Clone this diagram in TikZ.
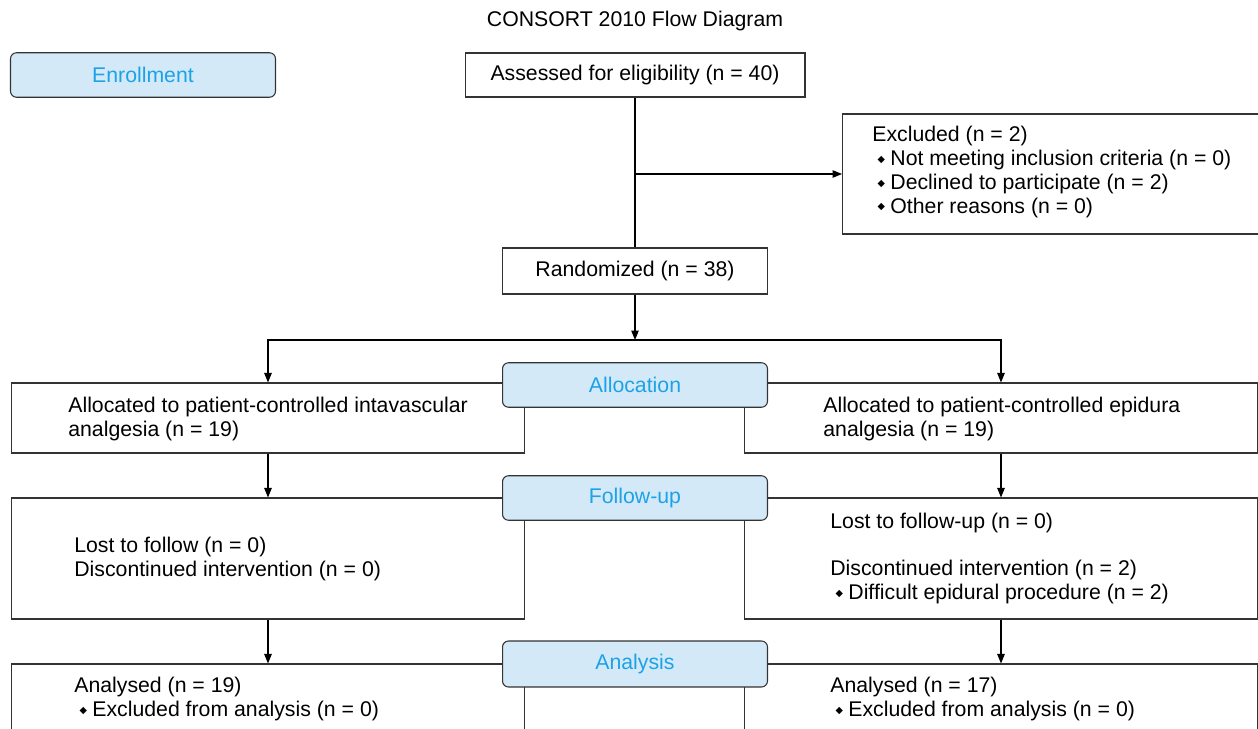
\documentclass[tikz,border=0pt]{standalone}
\usepackage{fontspec}
\setmainfont{Liberation Sans}
\newfontfamily\symfont{DejaVu Sans}
\usetikzlibrary{arrows.meta}
\definecolor{phasefill}{HTML}{D4E9F8}
\definecolor{phasetext}{HTML}{1CA2E6}
\definecolor{boxline}{HTML}{333333}
\newcommand{\itm}{\hspace*{0.25em}\raisebox{0.3ex}{\symfont\fontsize{5.5}{5.5}\selectfont ◆}\hspace{0.25em}}
\tikzset{
	every node/.style={font=\fontsize{12.1}{13.6}\selectfont},
	box/.style={draw=boxline, line width=0.6pt, minimum width=10.28cm, inner sep=0pt},
	phase/.style={draw=boxline, line width=0.6pt, fill=phasefill, text=phasetext,
		rounded corners=1.2mm, minimum width=5.3cm, minimum height=0.89cm, inner sep=0pt},
	txt/.style={anchor=west, align=left, inner sep=0pt},
	arr/.style={-{Triangle[length=1.9mm,width=1.5mm]}, line width=0.6pt}
}
\begin{document}
\begin{tikzpicture}[x=0.02cm, y=-0.02cm]
	\clip (0,0) rectangle (1258,729);
	\useasboundingbox (0,0) rectangle (1258,729);
	\node (title) at (635,21) {CONSORT 2010 Flow Diagram};
	% enrollment
	\node[box, minimum width=6.8cm, minimum height=0.88cm] (assess) at (635,75) {Assessed for eligibility (n = 40)};
	\node[box, minimum width=8.5cm, minimum height=2.4cm] (excl) at (1055,174) {};
	\node[txt] (excltext) at (872,172) {Excluded (n = 2)\\
		\itm Not meeting inclusion criteria (n = 0)\\
		\itm Declined to participate (n = 2)\\
		\itm Other reasons (n = 0)};
	\node[box, minimum width=5.3cm, minimum height=0.92cm] (rand) at (635,271) {Randomized (n = 38)};
	\coordinate (branch) at (assess.south |- excl.west);
	\coordinate (split) at (635,340);
	% allocation
	\node[box, minimum height=1.4cm] (allocL) at (268,418) {};
	\node[txt] (allocLtext) at (68,419) {Allocated to patient-controlled intavascular\\ analgesia (n = 19)};
	\node[box, minimum height=1.4cm] (allocR) at (1001,418) {};
	\node[txt] (allocRtext) at (823,419) {Allocated to patient-controlled epidura\\ analgesia (n = 19)};
	% follow-up
	\node[box, minimum height=2.42cm] (followL) at (268,558.5) {};
	\node[txt] (followLtext) at (74,559) {Lost to follow (n = 0)\\ Discontinued intervention (n = 0)};
	\node[box, minimum height=2.42cm] (followR) at (1001,558.5) {};
	\node[txt] (followRtext) at (830,558.5) {Lost to follow-up (n = 0)\\[13.6pt]
		Discontinued intervention (n = 2)\\
		\itm Difficult epidural procedure (n = 2)};
	% analysis
	\node[box, minimum height=1.38cm] (analysisL) at (268,698.5) {};
	\node[txt] (analysisLtext) at (74,699) {Analysed (n = 19)\\ \itm Excluded from analysis (n = 0)};
	\node[box, minimum height=1.38cm] (analysisR) at (1001,698.5) {};
	\node[txt] (analysisRtext) at (830,699) {Analysed (n = 17)\\ \itm Excluded from analysis (n = 0)};
	% phase labels
	\node[phase] (enroll) at (143,75) {Enrollment};
	\node[phase] (alloc) at (635,385) {Allocation};
	\node[phase] (follow) at (635,498) {Follow-up};
	\node[phase, minimum height=0.92cm] (analysis) at (635,664) {Analysis};
	% connectors
	\draw[line width=0.6pt] (assess) -- (rand);
	\draw[arr] (branch) -- (excl);
	\draw[arr] (rand) -- (split);
	\draw[arr] (split) -| (allocL);
	\draw[arr] (split) -| (allocR);
	\draw[arr] (allocL) -- (followL);
	\draw[arr] (allocR) -- (followR);
	\draw[arr] (followL) -- (analysisL);
	\draw[arr] (followR) -- (analysisR);
\end{tikzpicture}
\end{document}
